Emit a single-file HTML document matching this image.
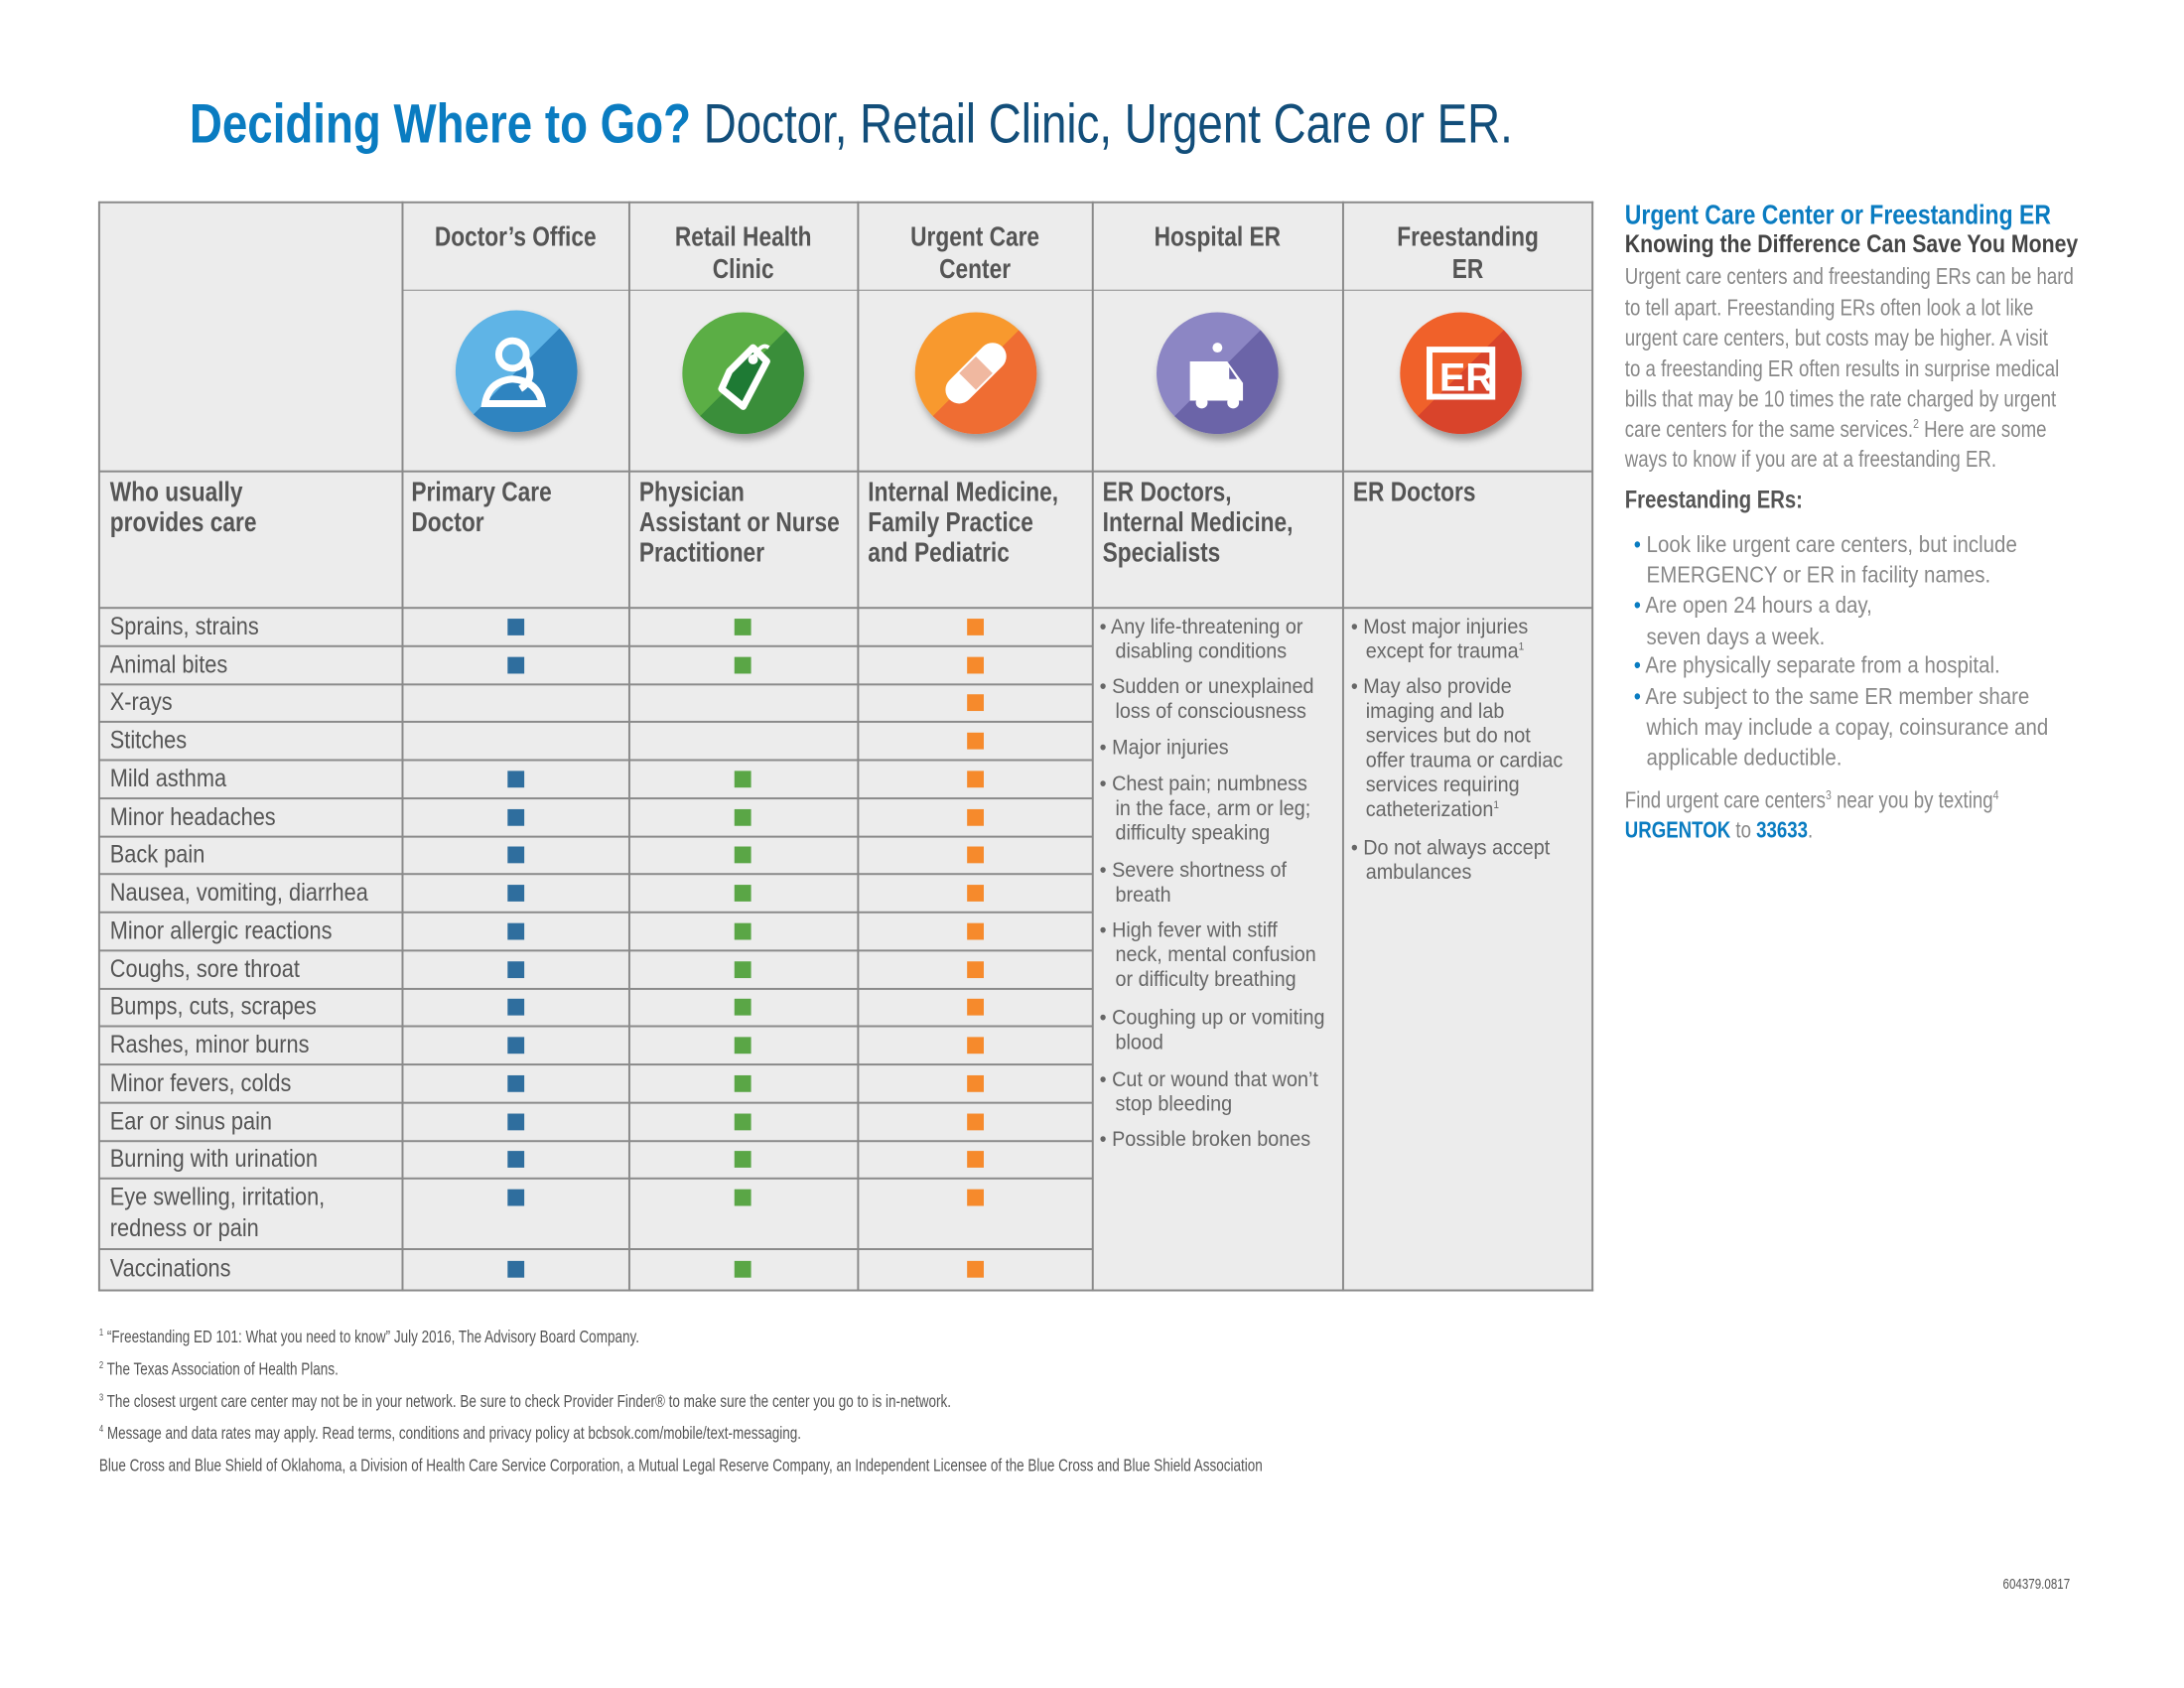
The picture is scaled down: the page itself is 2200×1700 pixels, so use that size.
<!DOCTYPE html>
<html><head><meta charset="utf-8">
<style>
body{margin:0;width:2200px;height:1700px;background:#fff;position:relative;overflow:hidden;font-family:"Liberation Sans",sans-serif}
#w{position:absolute;left:0;top:0;width:2200px;height:1700px;transform:scale(.989);transform-origin:0 0}
.t{position:absolute;white-space:nowrap;transform:scaleX(.78);transform-origin:0 0;line-height:1}
.hl{position:absolute;height:2px;background:#8a8a8a}
.vl{position:absolute;width:2px;background:#8a8a8a}
.sq{position:absolute;width:17px;height:17px}
.b{background:#2f6e9e}.g{background:#5aa646}.o{background:#f68a2c}
.lab{font-size:25px;color:#555;transform:scaleX(.88)}
.hd{font-size:28px;color:#555;font-weight:bold;transform:scaleX(.82)}
.t.c.hd{transform:translateX(-50%) scaleX(.82);transform-origin:50% 0}
.er{font-size:21.5px;color:#666;transform:scaleX(.93)}
.rp{font-size:23px;color:#888;transform:scaleX(.82)}
.rb{font-size:23px;color:#888;transform:scaleX(.9)}
.fn{font-size:17.5px;color:#555}
.ic{position:absolute;width:124px;height:124px;border-radius:50%;box-shadow:3px 6px 8px rgba(0,0,0,.35);overflow:hidden}
</style></head><body><div id="w">
<div class="t" style="left:193px;top:98px;font-size:56px;color:#0a7cc1;font-weight:bold;transform:scaleX(.825)">Deciding Where to Go? <span style="font-weight:normal;color:#124e7a">Doctor, Retail Clinic, Urgent Care or ER.</span></div>

<div style="position:absolute;left:101px;top:206px;width:1521px;height:1108px;background:#ececec"></div>
<div class="hl" style="left:101px;top:205px;width:1522px"></div>
<div class="hl" style="left:101px;top:1313px;width:1522px"></div>
<div class="vl" style="left:100px;top:205px;height:1110px"></div>
<div class="vl" style="left:1621px;top:205px;height:1110px"></div>
<div class="vl" style="left:409px;top:205px;height:1110px"></div>
<div class="vl" style="left:640px;top:205px;height:1110px"></div>
<div class="vl" style="left:873px;top:205px;height:1110px"></div>
<div class="vl" style="left:1112px;top:205px;height:1110px"></div>
<div class="vl" style="left:1367px;top:205px;height:1110px"></div>
<div class="hl" style="left:410px;top:295px;width:1212px;height:1px"></div>
<div class="hl" style="left:101px;top:479px;width:1521px"></div>
<div class="hl" style="left:101px;top:618px;width:1521px"></div>

<div class="t c hd" style="left:525px;top:227px">Doctor’s Office</div>
<div class="t c hd" style="left:757px;top:227px">Retail Health</div>
<div class="t c hd" style="left:757px;top:260px">Clinic</div>
<div class="t c hd" style="left:993px;top:227px">Urgent Care</div>
<div class="t c hd" style="left:993px;top:260px">Center</div>
<div class="t c hd" style="left:1240px;top:227px">Hospital ER</div>
<div class="t c hd" style="left:1495px;top:227px">Freestanding</div>
<div class="t c hd" style="left:1495px;top:260px">ER</div>

<div class="ic" style="left:464px;top:316px;background:linear-gradient(135deg,#5fb4e6 50%,#2f84c0 50%)"><svg width="124" height="124"><g fill="none" stroke="#fff" stroke-width="7"><circle cx="58" cy="45" r="14"/><path d="M30 95 Q34 72 58 70 Q84 72 88 95 Z"/><path d="M72 50 Q82 70 66 80"/></g></svg></div>
<div class="ic" style="left:695px;top:318px;background:linear-gradient(135deg,#5bae45 50%,#3a8e3a 50%)"><svg width="124" height="124"><g fill="#1e7a34" stroke="#fff" stroke-width="7" stroke-linejoin="round"><path d="M48 60 L72 36 L86 50 L62 96 L40 78 Z"/></g><circle cx="72" cy="48" r="5" fill="#fff"/><path d="M72 48 Q80 30 88 36" stroke="#fff" stroke-width="4" fill="none"/></svg></div>
<div class="ic" style="left:932px;top:318px;background:linear-gradient(135deg,#f8992e 50%,#ef6d33 50%)"><svg width="124" height="124"><rect x="24" y="48" width="76" height="28" rx="14" fill="#fff" transform="rotate(-45 62 62)"/><rect x="50" y="50" width="24" height="24" fill="#f0b8a0" transform="rotate(-45 62 62)"/></svg></div>
<div class="ic" style="left:1178px;top:318px;background:linear-gradient(135deg,#8c86c4 50%,#6b64a8 50%)"><svg width="124" height="124"><path d="M34 50 h38 l16 22 v18 h-54 z" fill="#fff"/><circle cx="46" cy="92" r="6" fill="#fff"/><circle cx="78" cy="92" r="6" fill="#fff"/><circle cx="62" cy="36" r="5" fill="#fff"/><path d="M74 56 l8 12 h-8z" fill="#6b64a8"/></svg></div>
<div class="ic" style="left:1426px;top:318px;background:linear-gradient(135deg,#f0612a 50%,#d9442b 50%)"><svg width="124" height="124"><rect x="30" y="38" width="64" height="48" fill="none" stroke="#fff" stroke-width="6"/><text x="40" y="80" font-family="Liberation Sans" font-weight="bold" font-size="40" fill="#fff">ER</text></svg></div>

<div class="t hd" style="left:112px;top:487px">Who usually</div>
<div class="t hd" style="left:112px;top:518px">provides care</div>
<div class="t hd" style="left:419px;top:487px">Primary Care</div>
<div class="t hd" style="left:419px;top:518px">Doctor</div>
<div class="t hd" style="left:651px;top:487px">Physician</div>
<div class="t hd" style="left:651px;top:518px">Assistant or Nurse</div>
<div class="t hd" style="left:651px;top:549px">Practitioner</div>
<div class="t hd" style="left:884px;top:487px">Internal Medicine,</div>
<div class="t hd" style="left:884px;top:518px">Family Practice</div>
<div class="t hd" style="left:884px;top:549px">and Pediatric</div>
<div class="t hd" style="left:1123px;top:487px">ER Doctors,</div>
<div class="t hd" style="left:1123px;top:518px">Internal Medicine,</div>
<div class="t hd" style="left:1123px;top:549px">Specialists</div>
<div class="t hd" style="left:1378px;top:487px">ER Doctors</div>

<div class="hl" style="left:101px;top:657px;width:1012px"></div>
<div class="hl" style="left:101px;top:696px;width:1012px"></div>
<div class="hl" style="left:101px;top:734px;width:1012px"></div>
<div class="hl" style="left:101px;top:773px;width:1012px"></div>
<div class="hl" style="left:101px;top:812px;width:1012px"></div>
<div class="hl" style="left:101px;top:851px;width:1012px"></div>
<div class="hl" style="left:101px;top:889px;width:1012px"></div>
<div class="hl" style="left:101px;top:928px;width:1012px"></div>
<div class="hl" style="left:101px;top:967px;width:1012px"></div>
<div class="hl" style="left:101px;top:1006px;width:1012px"></div>
<div class="hl" style="left:101px;top:1044px;width:1012px"></div>
<div class="hl" style="left:101px;top:1083px;width:1012px"></div>
<div class="hl" style="left:101px;top:1122px;width:1012px"></div>
<div class="hl" style="left:101px;top:1161px;width:1012px"></div>
<div class="hl" style="left:101px;top:1199px;width:1012px"></div>
<div class="hl" style="left:101px;top:1271px;width:1012px"></div>

<div class="t lab" style="left:112px;top:626px">Sprains, strains</div>
<div class="t lab" style="left:112px;top:665px">Animal bites</div>
<div class="t lab" style="left:112px;top:703px">X-rays</div>
<div class="t lab" style="left:112px;top:742px">Stitches</div>
<div class="t lab" style="left:112px;top:781px">Mild asthma</div>
<div class="t lab" style="left:112px;top:820px">Minor headaches</div>
<div class="t lab" style="left:112px;top:858px">Back pain</div>
<div class="t lab" style="left:112px;top:897px">Nausea, vomiting, diarrhea</div>
<div class="t lab" style="left:112px;top:936px">Minor allergic reactions</div>
<div class="t lab" style="left:112px;top:975px">Coughs, sore throat</div>
<div class="t lab" style="left:112px;top:1013px">Bumps, cuts, scrapes</div>
<div class="t lab" style="left:112px;top:1052px">Rashes, minor burns</div>
<div class="t lab" style="left:112px;top:1091px">Minor fevers, colds</div>
<div class="t lab" style="left:112px;top:1130px">Ear or sinus pain</div>
<div class="t lab" style="left:112px;top:1168px">Burning with urination</div>
<div class="t lab" style="left:112px;top:1207px">Eye swelling, irritation,</div>
<div class="t lab" style="left:112px;top:1239px">redness or pain</div>
<div class="t lab" style="left:112px;top:1280px">Vaccinations</div>

<div class="sq b" style="left:517px;top:630px"></div><div class="sq g" style="left:748px;top:630px"></div><div class="sq o" style="left:985px;top:630px"></div>
<div class="sq b" style="left:517px;top:669px"></div><div class="sq g" style="left:748px;top:669px"></div><div class="sq o" style="left:985px;top:669px"></div>
<div class="sq o" style="left:985px;top:707px"></div>
<div class="sq o" style="left:985px;top:746px"></div>
<div class="sq b" style="left:517px;top:785px"></div><div class="sq g" style="left:748px;top:785px"></div><div class="sq o" style="left:985px;top:785px"></div>
<div class="sq b" style="left:517px;top:824px"></div><div class="sq g" style="left:748px;top:824px"></div><div class="sq o" style="left:985px;top:824px"></div>
<div class="sq b" style="left:517px;top:862px"></div><div class="sq g" style="left:748px;top:862px"></div><div class="sq o" style="left:985px;top:862px"></div>
<div class="sq b" style="left:517px;top:901px"></div><div class="sq g" style="left:748px;top:901px"></div><div class="sq o" style="left:985px;top:901px"></div>
<div class="sq b" style="left:517px;top:940px"></div><div class="sq g" style="left:748px;top:940px"></div><div class="sq o" style="left:985px;top:940px"></div>
<div class="sq b" style="left:517px;top:979px"></div><div class="sq g" style="left:748px;top:979px"></div><div class="sq o" style="left:985px;top:979px"></div>
<div class="sq b" style="left:517px;top:1017px"></div><div class="sq g" style="left:748px;top:1017px"></div><div class="sq o" style="left:985px;top:1017px"></div>
<div class="sq b" style="left:517px;top:1056px"></div><div class="sq g" style="left:748px;top:1056px"></div><div class="sq o" style="left:985px;top:1056px"></div>
<div class="sq b" style="left:517px;top:1095px"></div><div class="sq g" style="left:748px;top:1095px"></div><div class="sq o" style="left:985px;top:1095px"></div>
<div class="sq b" style="left:517px;top:1134px"></div><div class="sq g" style="left:748px;top:1134px"></div><div class="sq o" style="left:985px;top:1134px"></div>
<div class="sq b" style="left:517px;top:1172px"></div><div class="sq g" style="left:748px;top:1172px"></div><div class="sq o" style="left:985px;top:1172px"></div>
<div class="sq b" style="left:517px;top:1211px"></div><div class="sq g" style="left:748px;top:1211px"></div><div class="sq o" style="left:985px;top:1211px"></div>
<div class="sq b" style="left:517px;top:1284px"></div><div class="sq g" style="left:748px;top:1284px"></div><div class="sq o" style="left:985px;top:1284px"></div>

<div class="t er" style="left:1120px;top:628px">• Any life-threatening or</div>
<div class="t er" style="left:1136px;top:653px">disabling conditions</div>
<div class="t er" style="left:1120px;top:689px">• Sudden or unexplained</div>
<div class="t er" style="left:1136px;top:714px">loss of consciousness</div>
<div class="t er" style="left:1120px;top:751px">• Major injuries</div>
<div class="t er" style="left:1120px;top:788px">• Chest pain; numbness</div>
<div class="t er" style="left:1136px;top:813px">in the face, arm or leg;</div>
<div class="t er" style="left:1136px;top:838px">difficulty speaking</div>
<div class="t er" style="left:1120px;top:876px">• Severe shortness of</div>
<div class="t er" style="left:1136px;top:901px">breath</div>
<div class="t er" style="left:1120px;top:937px">• High fever with stiff</div>
<div class="t er" style="left:1136px;top:962px">neck, mental confusion</div>
<div class="t er" style="left:1136px;top:987px">or difficulty breathing</div>
<div class="t er" style="left:1120px;top:1026px">• Coughing up or vomiting</div>
<div class="t er" style="left:1136px;top:1051px">blood</div>
<div class="t er" style="left:1120px;top:1089px">• Cut or wound that won’t</div>
<div class="t er" style="left:1136px;top:1114px">stop bleeding</div>
<div class="t er" style="left:1120px;top:1150px">• Possible broken bones</div>

<div class="t er" style="left:1376px;top:628px">• Most major injuries</div>
<div class="t er" style="left:1391px;top:653px">except for trauma<sup style="font-size:11px">1</sup></div>
<div class="t er" style="left:1376px;top:689px">• May also provide</div>
<div class="t er" style="left:1391px;top:714px">imaging and lab</div>
<div class="t er" style="left:1391px;top:739px">services but do not</div>
<div class="t er" style="left:1391px;top:764px">offer trauma or cardiac</div>
<div class="t er" style="left:1391px;top:789px">services requiring</div>
<div class="t er" style="left:1391px;top:814px">catheterization<sup style="font-size:11px">1</sup></div>
<div class="t er" style="left:1376px;top:853px">• Do not always accept</div>
<div class="t er" style="left:1391px;top:878px">ambulances</div>

<div class="t" style="left:1655px;top:205px;font-size:28px;font-weight:bold;color:#0a7cc1;transform:scaleX(.83)">Urgent Care Center or Freestanding ER</div>
<div class="t" style="left:1655px;top:237px;font-size:25px;font-weight:bold;color:#444;transform:scaleX(.86)">Knowing the Difference Can Save You Money</div>
<div class="t rp" style="left:1655px;top:270px">Urgent care centers and freestanding ERs can be hard</div>
<div class="t rp" style="left:1655px;top:302px">to tell apart. Freestanding ERs often look a lot like</div>
<div class="t rp" style="left:1655px;top:333px">urgent care centers, but costs may be higher. A visit</div>
<div class="t rp" style="left:1655px;top:364px">to a freestanding ER often results in surprise medical</div>
<div class="t rp" style="left:1655px;top:395px">bills that may be 10 times the rate charged by urgent</div>
<div class="t rp" style="left:1655px;top:425px">care centers for the same services.<sup style="font-size:13px">2</sup> Here are some</div>
<div class="t rp" style="left:1655px;top:456px">ways to know if you are at a freestanding ER.</div>
<div class="t" style="left:1655px;top:497px;font-size:25px;font-weight:bold;color:#555;transform:scaleX(.82)">Freestanding ERs:</div>
<div class="t rb" style="left:1664px;top:543px"><span style="color:#0a7cc1">•</span> Look like urgent care centers, but include</div>
<div class="t rb" style="left:1677px;top:574px">EMERGENCY or ER in facility names.</div>
<div class="t rb" style="left:1664px;top:605px"><span style="color:#0a7cc1">•</span> Are open 24 hours a day,</div>
<div class="t rb" style="left:1677px;top:637px">seven days a week.</div>
<div class="t rb" style="left:1664px;top:666px"><span style="color:#0a7cc1">•</span> Are physically separate from a hospital.</div>
<div class="t rb" style="left:1664px;top:698px"><span style="color:#0a7cc1">•</span> Are subject to the same ER member share</div>
<div class="t rb" style="left:1677px;top:729px">which may include a copay, coinsurance and</div>
<div class="t rb" style="left:1677px;top:760px">applicable deductible.</div>
<div class="t rp" style="left:1655px;top:803px">Find urgent care centers<sup style="font-size:13px">3</sup> near you by texting<sup style="font-size:13px">4</sup></div>
<div class="t rp" style="left:1655px;top:834px"><b style="color:#0a7cc1">URGENTOK</b> to <b style="color:#0a7cc1">33633</b>.</div>

<div class="t fn" style="left:101px;top:1353px"><sup style="font-size:10px">1</sup> “Freestanding ED 101: What you need to know” July 2016, The Advisory Board Company.</div>
<div class="t fn" style="left:101px;top:1386px"><sup style="font-size:10px">2</sup> The Texas Association of Health Plans.</div>
<div class="t fn" style="left:101px;top:1419px"><sup style="font-size:10px">3</sup> The closest urgent care center may not be in your network. Be sure to check Provider Finder® to make sure the center you go to is in-network.</div>
<div class="t fn" style="left:101px;top:1451px"><sup style="font-size:10px">4</sup> Message and data rates may apply. Read terms, conditions and privacy policy at bcbsok.com/mobile/text-messaging.</div>
<div class="t fn" style="left:101px;top:1484px">Blue Cross and Blue Shield of Oklahoma, a Division of Health Care Service Corporation, a Mutual Legal Reserve Company, an Independent Licensee of the Blue Cross and Blue Shield Association</div>
<div class="t fn" style="left:2040px;top:1606px;font-size:15px">604379.0817</div>
</div></body></html>
